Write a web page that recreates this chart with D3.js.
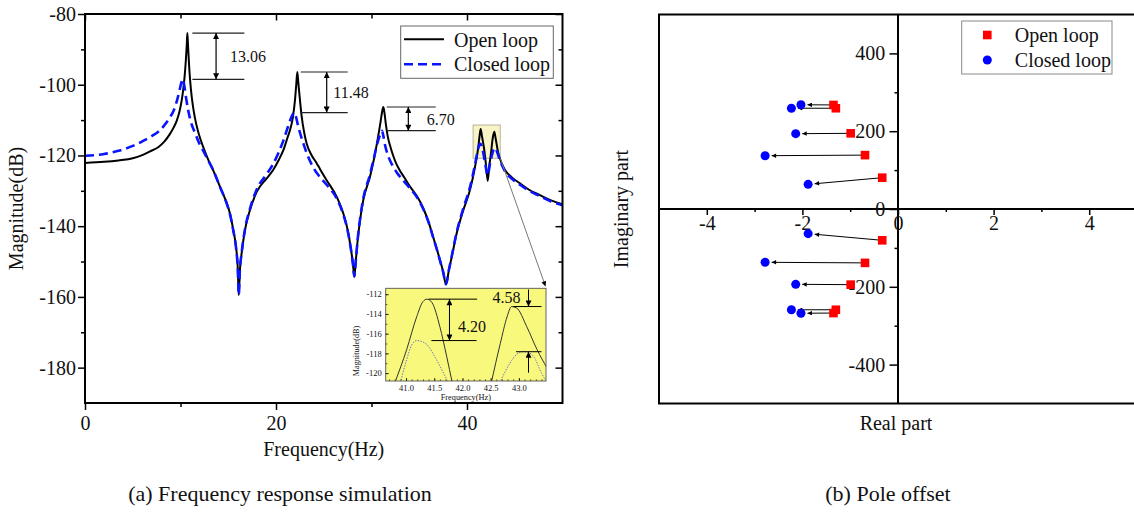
<!DOCTYPE html>
<html>
<head>
<meta charset="utf-8">
<script src="https://cdn.jsdelivr.net/npm/d3@7"></script>
<style>
  body { margin: 0; background: #fff; }
  svg { display: block; }
  svg text { font-family: "Liberation Serif", "Times New Roman", "DejaVu Serif", serif; }
</style>
</head>
<body>
<svg id="fig" width="1134" height="515"></svg>
<script>
// ---------- data: frequency response (Hz, dB) ----------
const openLoop = [
  [0,-122.1],[2,-121.8],[3.5,-121.4],[5,-120.8],[6,-119.9],[7,-118.6],[7.7,-117.6],[8.3,-116.1],
  [8.9,-113.9],[9.3,-112.0],[9.6,-110.2],[9.9,-107.5],[10.12,-104.5],[10.3,-101.0],[10.42,-98.0],
  [10.55,-93.5],[10.65,-89.0],[10.72,-85.4],[10.8,-89.5],[10.89,-94.1],[11.0,-98.5],[11.1,-101.5],
  [11.3,-106.0],[11.52,-109.5],[11.8,-112.8],[12.1,-115.5],[12.57,-119.0],[13.0,-121.8],[13.4,-124.1],
  [14.14,-128.9],[14.84,-133.5],[15.18,-136.4],[15.53,-141.1],[15.81,-145.8],[16.0,-152.0],[16.1,-159.5],
  [16.22,-152.5],[16.4,-147.7],[16.75,-141.1],[17.28,-135.4],[17.98,-130.3],[19.02,-126.5],[19.7,-124.1],
  [20.3,-121.2],[20.77,-118.5],[21.2,-115.0],[21.5,-112.5],[21.75,-109.5],[21.99,-104.3],[22.12,-100.0],
  [22.23,-96.4],[22.34,-99.5],[22.44,-102.4],[22.69,-109.0],[22.95,-113.5],[23.21,-116.6],[23.7,-119.8],
  [24.26,-122.2],[24.6,-123.8],[25.3,-127.0],[26.36,-131.7],[27.05,-136.4],[27.5,-141.0],[27.85,-146.5],
  [28.05,-150.5],[28.2,-154.3],[28.35,-150.0],[28.55,-144.0],[28.8,-138.3],[29.14,-132.6],[29.84,-126.0],
  [30.2,-121.8],[30.54,-117.0],[30.8,-113.0],[30.96,-110.3],[31.12,-107.5],[31.24,-106.3],[31.36,-108.0],
  [31.52,-111.5],[31.7,-114.6],[31.94,-117.2],[32.3,-120.3],[32.64,-122.6],[32.98,-124.3],[33.5,-126.5],
  [34.03,-128.8],[34.8,-131.7],[35.43,-135.0],[36.0,-139.0],[36.47,-143.2],[36.9,-147.0],[37.17,-149.6],
  [37.5,-152.8],[37.8,-156.5],[38.1,-152.5],[38.4,-148.7],[38.92,-142.0],[39.62,-135.4],[40.31,-129.8],
  [40.84,-123.2],[41.19,-117.5],[41.33,-114.2],[41.43,-112.5],[41.55,-114.3],[41.81,-118.5],[42.0,-123.0],
  [42.17,-127.2],[42.33,-123.0],[42.51,-119.4],[42.7,-115.0],[42.86,-113.3],[43.0,-115.2],[43.28,-119.4],
  [43.6,-122.0],[43.98,-124.1],[44.7,-126.2],[45.55,-127.9],[46.5,-129.7],[47.64,-131.2],[48.8,-132.7],
  [50.0,-133.8]
];
const closedLoop = [
  [0,-120.1],[2,-119.6],[3.5,-118.7],[5,-117.3],[6,-116.0],[7,-114.5],[7.7,-113.2],[8.3,-111.5],
  [8.9,-109.2],[9.3,-107.2],[9.6,-104.8],[9.9,-101.6],[10.1,-99.3],[10.25,-98.46],[10.4,-100.3],
  [10.6,-104.0],[10.82,-107.4],[11.1,-110.6],[11.52,-113.6],[12.0,-116.8],[12.4,-118.8],[13.0,-121.9],
  [13.4,-124.0],[14.14,-128.9],[14.84,-133.6],[15.18,-136.6],[15.53,-141.3],[15.81,-146.0],[16.0,-152.2],
  [16.1,-159.4],[16.22,-152.4],[16.4,-147.6],[16.75,-140.9],[17.28,-135.0],[17.98,-129.6],[19.02,-125.3],
  [19.7,-122.4],[20.3,-119.0],[20.77,-115.8],[21.2,-112.3],[21.5,-109.9],[21.75,-108.4],[21.9,-107.88],
  [22.05,-108.7],[22.34,-111.9],[22.86,-116.6],[23.4,-120.6],[23.9,-123.4],[24.5,-125.8],[25.3,-128.3],
  [26.36,-132.2],[27.05,-136.7],[27.5,-141.2],[27.85,-146.6],[28.05,-150.6],[28.2,-154.2],[28.35,-150.0],
  [28.55,-143.8],[28.8,-138.0],[29.14,-132.2],[29.84,-125.4],[30.2,-121.3],[30.54,-117.4],[30.8,-114.9],
  [31.0,-113.5],[31.1,-113.0],[31.25,-114.6],[31.41,-117.0],[31.7,-119.8],[32.0,-121.8],[32.28,-123.2],
  [32.7,-125.0],[33.3,-127.0],[34.03,-129.3],[34.8,-132.0],[35.43,-135.2],[36.0,-139.1],[36.47,-143.3],
  [36.9,-147.1],[37.17,-149.7],[37.5,-152.9],[37.8,-156.4],[38.1,-152.4],[38.4,-148.5],[38.92,-141.7],
  [39.62,-134.9],[40.31,-129.0],[40.84,-122.6],[41.1,-119.0],[41.3,-116.9],[41.4,-116.7],[41.6,-118.0],
  [41.85,-121.4],[42.17,-125.6],[42.4,-122.5],[42.65,-119.5],[42.85,-118.0],[42.95,-117.88],[43.15,-119.0],
  [43.4,-121.0],[43.98,-124.5],[44.7,-126.6],[45.55,-128.3],[46.5,-130.0],[47.64,-131.5],[48.8,-133.0],
  [50.0,-134.1]
];

// peak reductions marked on the main plot
const dropFreqs  = [10.72, 22.23, 31.24];
const dropValues = [13.06, 11.48, 6.70];

// magnified view of the two close modes near 41-43 Hz
const insetOpen = [
  [[40.8,-121],[41.01,-117.64],[41.19,-114.27],[41.3,-112.75],[41.37,-112.5],[41.46,-112.85],[41.6,-115.3],[41.72,-118.3],[41.82,-121]],
  [[42.51,-121],[42.67,-117.0],[42.79,-114.3],[42.87,-113.25],[42.96,-113.4],[43.14,-115.3],[43.32,-117.6],[43.5,-119.5]]
];
const insetClosed = [
  [[40.9,-121],[41.01,-118.65],[41.1,-117.15],[41.19,-116.7],[41.28,-116.8],[41.37,-117.1],[41.54,-118.65],[41.75,-121]],
  [[42.66,-121],[42.84,-119.0],[42.96,-118.1],[43.08,-117.83],[43.18,-117.95],[43.26,-118.3],[43.4,-120.0],[43.5,-121]]
];
const insetDrops = [4.20, 4.58];

// axis ticks
const magMajor  = [-80, -100, -120, -140, -160, -180];
const magMinor  = [-90, -110, -130, -150, -170];
const freqMajor = [0, 20, 40];
const freqMinor = [10, 30];
const insetMagTicks  = [-112, -114, -116, -118, -120];
const insetFreqTicks = [41.0, 41.5, 42.0, 42.5, 43.0];

// ---------- data: poles (real part, imaginary part) ----------
const openPoles = [
  [-1.35, 267.5], [-1.30, 259], [-0.99, 194.5], [-0.69, 138.5], [-0.33, 80.5],
  [-0.33, -80.5], [-0.69, -138.5], [-0.99, -194.5], [-1.30, -259], [-1.35, -267.5]
];
const closedPoles = [
  [-2.03, 268], [-2.23, 259], [-2.14, 193.6], [-2.78, 137], [-1.88, 63.4],
  [-1.88, -63.4], [-2.78, -137], [-2.14, -193.6], [-2.23, -259], [-2.03, -268]
];
const reMajor = [-4, -2, 0, 2, 4];
const reMinor = [-3, -1, 1, 3];
const imMajor = [-400, -200, 0, 200, 400];
const imMinor = [-300, -100, 100, 300];

// ---------- drawing ----------
const FONT = '"Liberation Serif", "Times New Roman", "DejaVu Serif", serif';
const svg = d3.select("#fig").attr("font-family", FONT);
const defs = svg.append("defs");

function arrowMarker(id, w, h) {
  defs.append("marker")
    .attr("id", id).attr("viewBox", "0 0 10 10")
    .attr("refX", 10).attr("refY", 5)
    .attr("markerWidth", w).attr("markerHeight", h)
    .attr("markerUnits", "userSpaceOnUse")
    .attr("orient", "auto-start-reverse")
    .append("path").attr("d", "M0,0L10,5L0,10Z").attr("fill", "#000");
}
arrowMarker("ah", 7, 6);
arrowMarker("ahs", 6, 4.5);
arrowMarker("ahi", 6, 5);

function drawAxis(gen, tx, ty, fs, sw) {
  const g = svg.append("g")
    .attr("transform", `translate(${tx},${ty})`)
    .call(gen)
    .attr("font-family", FONT)
    .attr("font-size", fs || 10);
  g.select(".domain").remove();
  g.selectAll(".tick line").attr("stroke", "#000").attr("stroke-width", sw || 1.5);
  g.selectAll(".tick text").attr("fill", "#111");
  return g;
}

// ===== (a) frequency response =====
const xF = d3.scaleLinear().domain([0, 50]).range([85, 562.5]);
const yM = d3.scaleLinear().domain([-190, -80]).range([403, 14]);

drawAxis(d3.axisLeft(yM).tickValues(magMajor).tickSize(7).tickPadding(2).tickFormat(d => d), xF(0), 0, 20);
drawAxis(d3.axisLeft(yM).tickValues(magMinor).tickSize(4).tickFormat(""), xF(0), 0);
drawAxis(d3.axisBottom(xF).tickValues(freqMajor).tickSize(7).tickPadding(6).tickFormat(d => d), 0, yM(-190), 20);
drawAxis(d3.axisBottom(xF).tickValues(freqMinor).tickSize(4).tickFormat(""), 0, yM(-190));
drawAxis(d3.axisTop(xF).tickValues(freqMajor).tickSize(-6.5).tickFormat(""), 0, yM(-80));
drawAxis(d3.axisTop(xF).tickValues(freqMinor).tickSize(-4.5).tickFormat(""), 0, yM(-80));
drawAxis(d3.axisRight(yM).tickValues(magMajor).tickSize(-7).tickFormat(""), xF(50), 0);
drawAxis(d3.axisRight(yM).tickValues(magMinor).tickSize(-4).tickFormat(""), xF(50), 0);

// inset domain, also used for the highlight box on the main plot
const insetFreqDomain = [40.64, 43.48];
const insetMagDomain = [-120.8, -111.4];

svg.append("rect")
  .attr("x", xF(insetFreqDomain[0])).attr("y", yM(insetMagDomain[1]))
  .attr("width", xF(insetFreqDomain[1]) - xF(insetFreqDomain[0]))
  .attr("height", yM(insetMagDomain[0]) - yM(insetMagDomain[1]))
  .attr("fill", "#f8f4c6").attr("stroke", "#b8b49a").attr("stroke-width", 1);

defs.append("clipPath").attr("id", "clipA").append("rect")
  .attr("x", xF(0)).attr("y", yM(-80)).attr("width", xF(50) - xF(0)).attr("height", yM(-190) - yM(-80));

const lineA = d3.line().x(d => xF(d[0])).y(d => yM(d[1])).curve(d3.curveMonotoneX);
const curves = svg.append("g").attr("clip-path", "url(#clipA)");
curves.append("path").datum(openLoop).attr("d", lineA)
  .attr("fill", "none").attr("stroke", "#000").attr("stroke-width", 2).attr("stroke-linejoin", "round");
curves.append("path").datum(closedLoop).attr("d", lineA)
  .attr("fill", "none").attr("stroke", "#0a14ff").attr("stroke-width", 2.6).attr("stroke-dasharray", "9,5");

svg.append("rect")
  .attr("x", xF(0)).attr("y", yM(-80)).attr("width", xF(50) - xF(0)).attr("height", yM(-190) - yM(-80))
  .attr("fill", "none").attr("stroke", "#000").attr("stroke-width", 2);

// peak reduction markers: horizontal guides, double arrow and value
const dropLayout = [
  { start: 5,   len: 52, arrow: 28.7, label: 42.7 },
  { start: 3.4, len: 47, arrow: 29.4, label: 36 },
  { start: 3.4, len: 49, arrow: 25,   label: 43.4 }
];
dropFreqs.forEach((f, i) => {
  const top = openLoop.find(d => d[0] === f)[1];
  const bottom = top - dropValues[i];
  const L = dropLayout[i];
  const x0 = xF(f) + L.start, x1 = x0 + L.len;
  const yt = yM(top), yb = yM(bottom);
  const g = svg.append("g");
  g.append("line").attr("x1", x0).attr("x2", x1).attr("y1", yt).attr("y2", yt).attr("stroke", "#222").attr("stroke-width", 1.2);
  g.append("line").attr("x1", x0).attr("x2", x1).attr("y1", yb).attr("y2", yb).attr("stroke", "#222").attr("stroke-width", 1.2);
  g.append("line").attr("x1", xF(f) + L.arrow).attr("x2", xF(f) + L.arrow).attr("y1", yt).attr("y2", yb)
    .attr("stroke", "#000").attr("stroke-width", 1.2)
    .attr("marker-start", "url(#ah)").attr("marker-end", "url(#ah)");
  g.append("text").attr("x", xF(f) + L.label).attr("y", (yt + yb) / 2 + 6)
    .attr("font-size", 16).attr("fill", "#111").text(dropValues[i].toFixed(2));
});

// legend (a)
const legA = svg.append("g");
legA.append("rect").attr("x", 400.7).attr("y", 26).attr("width", 152.6).attr("height", 52.3)
  .attr("fill", "#fff").attr("stroke", "#666").attr("stroke-width", 1);
legA.append("line").attr("x1", 404).attr("x2", 444).attr("y1", 39.3).attr("y2", 39.3).attr("stroke", "#000").attr("stroke-width", 2);
legA.append("line").attr("x1", 404).attr("x2", 444).attr("y1", 64.3).attr("y2", 64.3)
  .attr("stroke", "#0a14ff").attr("stroke-width", 2.6).attr("stroke-dasharray", "9,5");
legA.append("text").attr("x", 454).attr("y", 46.5).attr("font-size", 20).attr("fill", "#111").text("Open loop");
legA.append("text").attr("x", 454).attr("y", 70.5).attr("font-size", 20).attr("fill", "#111").text("Closed loop");

// axis titles (a)
svg.append("text").attr("transform", `translate(23,${(yM(-80) + yM(-190)) / 2}) rotate(-90)`)
  .attr("text-anchor", "middle").attr("font-size", 20).attr("fill", "#111").text("Magnitude(dB)");
svg.append("text").attr("x", (xF(0) + xF(50)) / 2).attr("y", 456)
  .attr("text-anchor", "middle").attr("font-size", 20).attr("fill", "#111").text("Frequency(Hz)");

// ----- inset -----
const xI = d3.scaleLinear().domain(insetFreqDomain).range([385.7, 546]);
const yI = d3.scaleLinear().domain(insetMagDomain).range([381, 288.3]);

// connector from the highlighted box to the inset
svg.append("line")
  .attr("x1", xF(insetFreqDomain[1])).attr("y1", yM(insetMagDomain[0]))
  .attr("x2", xI(insetFreqDomain[1]) - 0.5).attr("y2", yI(insetMagDomain[1]) - 2)
  .attr("stroke", "#777").attr("stroke-width", 1).attr("marker-end", "url(#ahi)");

svg.append("rect").attr("x", xI.range()[0]).attr("y", yI.range()[1])
  .attr("width", xI.range()[1] - xI.range()[0]).attr("height", yI.range()[0] - yI.range()[1])
  .attr("fill", "#f8f87c");

drawAxis(d3.axisLeft(yI).tickValues(insetMagTicks).tickSizeInner(-3).tickSizeOuter(0).tickPadding(4).tickFormat(d => d), xI.range()[0], 0, 8.5, 0.8);
drawAxis(d3.axisLeft(yI).tickValues(d3.range(-120, -111, 1)).tickSizeInner(-1.6).tickSizeOuter(0).tickFormat(""), xI.range()[0], 0, 8, 0.7);
drawAxis(d3.axisBottom(xI).tickValues(insetFreqTicks).tickSizeInner(-3).tickSizeOuter(0).tickPadding(4).tickFormat(d3.format(".1f")), 0, yI.range()[0], 8.5, 0.8);
drawAxis(d3.axisBottom(xI).tickValues(d3.range(40.7, 43.45, 0.1)).tickSizeInner(-1.6).tickSizeOuter(0).tickFormat(""), 0, yI.range()[0], 8, 0.7);

defs.append("clipPath").attr("id", "clipI").append("rect")
  .attr("x", xI.range()[0]).attr("y", yI.range()[1])
  .attr("width", xI.range()[1] - xI.range()[0]).attr("height", yI.range()[0] - yI.range()[1]);
const lineI = d3.line().x(d => xI(d[0])).y(d => yI(d[1])).curve(d3.curveMonotoneX);
const ins = svg.append("g").attr("clip-path", "url(#clipI)");
insetOpen.forEach(seg => ins.append("path").datum(seg).attr("d", lineI)
  .attr("fill", "none").attr("stroke", "#333").attr("stroke-width", 1));
insetClosed.forEach(seg => ins.append("path").datum(seg).attr("d", lineI)
  .attr("fill", "none").attr("stroke", "#6b6bd0").attr("stroke-width", 1).attr("stroke-dasharray", "1.4,1.4"));

svg.append("rect").attr("x", xI.range()[0]).attr("y", yI.range()[1])
  .attr("width", xI.range()[1] - xI.range()[0]).attr("height", yI.range()[0] - yI.range()[1])
  .attr("fill", "none").attr("stroke", "#555").attr("stroke-width", 0.9);

// inset reductions
const peakL = d3.max(insetOpen[0], d => d[1]);
const peakR = d3.max(insetOpen[1], d => d[1]);
const gi = svg.append("g").attr("stroke", "#000").attr("stroke-width", 1);
gi.append("line").attr("x1", xI(41.4)).attr("x2", xI(42.26)).attr("y1", yI(peakL)).attr("y2", yI(peakL));
gi.append("line").attr("x1", xI(41.45)).attr("x2", xI(42.25)).attr("y1", yI(peakL - insetDrops[0])).attr("y2", yI(peakL - insetDrops[0]));
gi.append("line").attr("x1", xI(41.77)).attr("x2", xI(41.77)).attr("y1", yI(peakL)).attr("y2", yI(peakL - insetDrops[0]))
  .attr("marker-start", "url(#ah)").attr("marker-end", "url(#ah)");
gi.append("line").attr("x1", xI(42.9)).attr("x2", xI(43.4)).attr("y1", yI(peakR)).attr("y2", yI(peakR));
gi.append("line").attr("x1", xI(42.95)).attr("x2", xI(43.4)).attr("y1", yI(peakR - insetDrops[1])).attr("y2", yI(peakR - insetDrops[1]));
gi.append("line").attr("x1", xI(43.17)).attr("x2", xI(43.17)).attr("y1", yI(peakR) - 17).attr("y2", yI(peakR))
  .attr("marker-end", "url(#ah)");
gi.append("line").attr("x1", xI(43.17)).attr("x2", xI(43.17)).attr("y1", yI(peakR - insetDrops[1]) + 21).attr("y2", yI(peakR - insetDrops[1]))
  .attr("marker-end", "url(#ah)");
svg.append("text").attr("x", xI(41.92)).attr("y", yI(peakL - insetDrops[0] / 2) + 12)
  .attr("font-size", 16).attr("fill", "#111").text(insetDrops[0].toFixed(2));
svg.append("text").attr("x", xI(43.03)).attr("y", yI(peakR) - 3.2).attr("text-anchor", "end")
  .attr("font-size", 16).attr("fill", "#111").text(insetDrops[1].toFixed(2));

svg.append("text").attr("transform", `translate(358.5,351) rotate(-90)`)
  .attr("text-anchor", "middle").attr("font-size", 8.2).attr("fill", "#111").text("Magnitude(dB)");
svg.append("text").attr("x", (xI.range()[0] + xI.range()[1]) / 2).attr("y", 399.5)
  .attr("text-anchor", "middle").attr("font-size", 8.3).attr("fill", "#111").text("Frequency(Hz)");

// ===== (b) pole offset =====
const xR = d3.scaleLinear().domain([-5, 5]).range([659, 1137]);
const yR = d3.scaleLinear().domain([-500, 500]).range([403.5, 14.5]);

svg.append("rect").attr("x", xR(-5)).attr("y", yR(500)).attr("width", xR(5) - xR(-5)).attr("height", yR(-500) - yR(500))
  .attr("fill", "none").attr("stroke", "#000").attr("stroke-width", 2);
svg.append("line").attr("x1", xR(-5)).attr("x2", xR(5)).attr("y1", yR(0)).attr("y2", yR(0)).attr("stroke", "#000").attr("stroke-width", 2);
svg.append("line").attr("x1", xR(0)).attr("x2", xR(0)).attr("y1", yR(500)).attr("y2", yR(-500)).attr("stroke", "#000").attr("stroke-width", 2);

drawAxis(d3.axisLeft(yR).tickValues(imMajor).tickSize(8.5).tickPadding(4.3).tickFormat(d => d), xR(0), 0, 20);
drawAxis(d3.axisLeft(yR).tickValues(imMinor).tickSize(3.5).tickFormat(""), xR(0), 0);
drawAxis(d3.axisBottom(xR).tickValues(reMajor).tickSize(6).tickPadding(0.5).tickFormat(d => d), 0, yR(0), 20);
drawAxis(d3.axisBottom(xR).tickValues(reMinor).tickSize(3).tickFormat(""), 0, yR(0));

// pole shift arrows, open loop -> closed loop
const tipGap = 6.5;
openPoles.forEach((p, i) => {
  const q = closedPoles[i];
  const x1 = xR(p[0]), y1 = yR(p[1]), x2 = xR(q[0]), y2 = yR(q[1]);
  const len = Math.hypot(x1 - x2, y1 - y2);
  svg.append("line")
    .attr("x1", x1).attr("y1", y1)
    .attr("x2", x2 + (x1 - x2) / len * tipGap).attr("y2", y2 + (y1 - y2) / len * tipGap)
    .attr("stroke", "#000").attr("stroke-width", 1).attr("marker-end", "url(#ahs)");
});

const sq = 8.6, rad = 4.5;
svg.append("g").selectAll("rect").data(openPoles).join("rect")
  .attr("x", d => xR(d[0]) - sq / 2).attr("y", d => yR(d[1]) - sq / 2)
  .attr("width", sq).attr("height", sq).attr("fill", "#ff0000");
svg.append("g").selectAll("circle").data(closedPoles).join("circle")
  .attr("cx", d => xR(d[0])).attr("cy", d => yR(d[1])).attr("r", rad).attr("fill", "#0000ff");

// legend (b)
const legB = svg.append("g");
legB.append("rect").attr("x", 961.7).attr("y", 21).attr("width", 150.3).attr("height", 53)
  .attr("fill", "#fff").attr("stroke", "#888").attr("stroke-width", 1);
legB.append("rect").attr("x", 987.3 - sq / 2).attr("y", 35 - sq / 2).attr("width", sq).attr("height", sq).attr("fill", "#ff0000");
legB.append("circle").attr("cx", 987.3).attr("cy", 60).attr("r", rad).attr("fill", "#0000ff");
legB.append("text").attr("x", 1014.8).attr("y", 41.5).attr("font-size", 20).attr("fill", "#111").text("Open loop");
legB.append("text").attr("x", 1014.8).attr("y", 66.5).attr("font-size", 20).attr("fill", "#111").text("Closed loop");

// axis titles (b)
svg.append("text").attr("transform", `translate(627.5,${yR(0)}) rotate(-90)`)
  .attr("text-anchor", "middle").attr("font-size", 20).attr("fill", "#111").text("Imaginary part");
svg.append("text").attr("x", 896).attr("y", 430)
  .attr("text-anchor", "middle").attr("font-size", 20).attr("fill", "#111").text("Real part");

// captions
svg.append("text").attr("x", 280).attr("y", 501).attr("text-anchor", "middle")
  .attr("font-size", 22).attr("fill", "#111").text("(a) Frequency response simulation");
svg.append("text").attr("x", 888).attr("y", 501).attr("text-anchor", "middle")
  .attr("font-size", 22).attr("fill", "#111").text("(b) Pole offset");
</script>
</body>
</html>
